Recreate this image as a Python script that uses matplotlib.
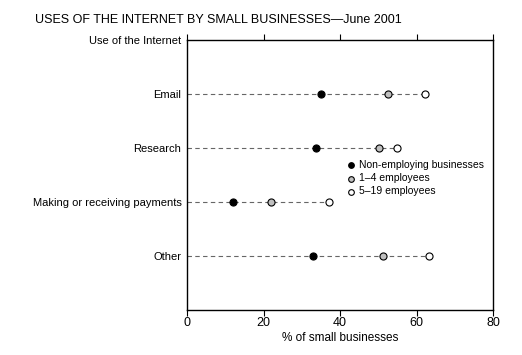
import numpy as np
import matplotlib
matplotlib.use("Agg")
import matplotlib.pyplot as plt

plt.rcParams['font.family'] = ['Liberation Sans Narrow', 'Liberation Sans', 'DejaVu Sans']

uses = ["Email", "Research", "Making or receiving payments", "Other"]
non_employing = [35.0, 33.6, 12.1, 33.0]
emp_1_4 = [52.6, 50.1, 21.9, 51.3]
emp_5_19 = [62.2, 54.8, 37.2, 63.3]
series_names = ["Non-employing businesses", "1\u20134 employees", "5\u201319 employees"]

fig = plt.figure(figsize=(5.22, 3.55), dpi=100)
ax = fig.add_axes([187/522, 1-310/355, (493-187)/522, (310-40)/355])

y = np.arange(1, len(uses) + 1)

# dashed guide lines from axis to the largest value
for yi, v in zip(y, np.max([non_employing, emp_1_4, emp_5_19], axis=0)):
    ax.plot([0, v], [yi, yi], ls=(0, (4, 3)), color='#666666', lw=0.8, zorder=1)

ax.scatter(non_employing, y, s=26, color='black', edgecolor='black', lw=0.8,
           zorder=3, label=series_names[0])
ax.scatter(emp_1_4, y, s=26, color='#c0c0c0', edgecolor='black', lw=0.8,
           zorder=3, label=series_names[1])
ax.scatter(emp_5_19, y, s=26, color='white', edgecolor='black', lw=0.8,
           zorder=3, label=series_names[2])

ax.set_xlim(0, 80)
ax.set_ylim(5, 0)
ax.set_xticks([0, 20, 40, 60, 80])
ax.set_yticks([0] + list(y))
ax.set_yticklabels(["Use of the Internet"] + uses)
ax.tick_params(axis='y', length=0, pad=4, labelsize=8)
ax.tick_params(axis='x', top=True, direction='out', length=4, labelsize=9, pad=1)
ax.set_xlabel("% of small businesses", fontsize=8.5, labelpad=2)

for sp in ax.spines.values():
    sp.set_linewidth(1.0)

ax.legend(loc='upper left', bbox_to_anchor=((340-187)/306, (310-155)/270),
          frameon=False, fontsize=7.5, handletextpad=0.1, borderpad=0,
          labelspacing=0.3, markerscale=0.8, handlelength=1.2)

fig.text(35/522, 1-20/355, "USES OF THE INTERNET BY SMALL BUSINESSES\u2014June 2001",
         fontsize=9, va='center', ha='left')

fig.savefig("out.png", dpi=100)
